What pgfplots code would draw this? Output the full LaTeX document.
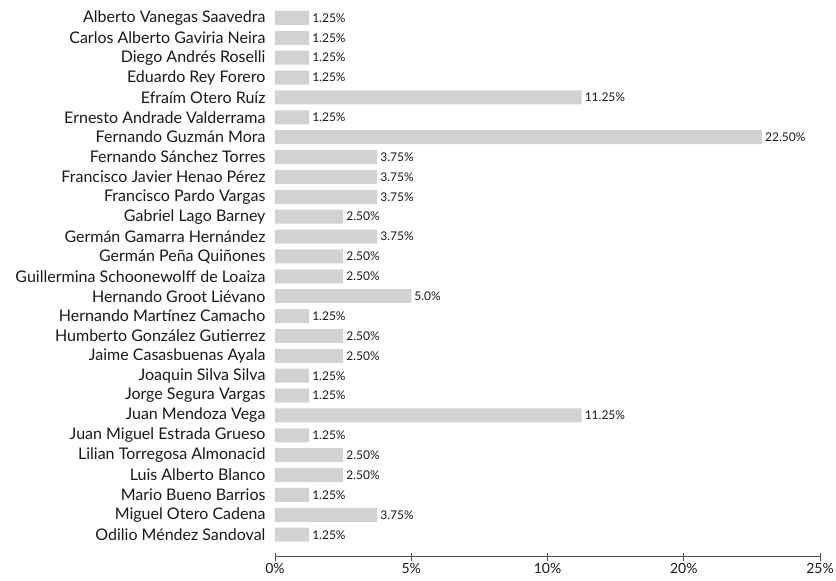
\documentclass[border=0pt]{standalone}
\usepackage{pgfplots}
\pgfplotsset{compat=1.18}
\usepackage{fontspec}
\setmainfont{Lato}
\definecolor{bargray}{HTML}{D1D2D4}
\definecolor{axisgray}{HTML}{4D4D4D}
\begin{document}
\begin{tikzpicture}
\begin{axis}[
  scale only axis, width=545pt, height=556.6pt,
  xbar, bar width=14pt,
  xmin=0, xmax=20, ymin=-0.9, ymax=27.1, y dir=reverse,
  axis x line*=bottom, axis y line*=left,
  y axis line style={draw=none},
  x axis line style={draw=axisgray, line width=0.8pt},
  ytick={0,...,26},
  yticklabels={Alberto Vanegas Saavedra, Carlos Alberto Gaviria Neira, Diego Andrés Roselli\ , Eduardo Rey Forero\ , Efraím Otero Ruíz, Ernesto Andrade Valderrama, Fernando Guzmán Mora, Fernando Sánchez Torres, Francisco Javier Henao Pérez, Francisco Pardo Vargas, Gabriel Lago Barney, Germán Gamarra Hernández, Germán Peña Quiñones, Guillermina Schoonewolff de Loaiza, Hernando Groot Liévano\ , Hernando Martínez Camacho\ , Humberto González Gutierrez, Jaime Casasbuenas Ayala\ , Joaquin Silva Silva, Jorge Segura Vargas, Juan Mendoza Vega, Juan Miguel Estrada Grueso, Lilian Torregosa Almonacid, Luis Alberto Blanco, Mario Bueno Barrios\ , Miguel Otero Cadena, Odilio Méndez Sandoval},
  ytick style={draw=none},
  yticklabel style={font=\fontsize{16}{17}\selectfont, text=black!90, xshift=-2pt},
  xtick={0,5,10,15,20},
  xticklabels={0\%,5\%,10\%,20\%,25\%},
  xticklabel style={font=\fontsize{14}{15}\selectfont, text=black!90, yshift=1pt},
  /pgf/number format/assume math mode=true,
  tick align=center, major tick length=8pt,
  xtick style={draw=axisgray, line width=0.8pt},
  nodes near coords, point meta=explicit symbolic,
  nodes near coords style={font=\fontsize{12}{13}\selectfont, anchor=west, text=black!90, inner sep=3pt},
  clip=false,
]
\addplot[fill=bargray, draw=none] coordinates {
(1.25,0) [1.25\%]
(1.25,1) [1.25\%]
(1.25,2) [1.25\%]
(1.25,3) [1.25\%]
(11.25,4) [11.25\%]
(1.25,5) [1.25\%]
(17.87,6) [22.50\%]
(3.75,7) [3.75\%]
(3.75,8) [3.75\%]
(3.75,9) [3.75\%]
(2.50,10) [2.50\%]
(3.75,11) [3.75\%]
(2.50,12) [2.50\%]
(2.50,13) [2.50\%]
(5.0,14) [5.0\%]
(1.25,15) [1.25\%]
(2.50,16) [2.50\%]
(2.50,17) [2.50\%]
(1.25,18) [1.25\%]
(1.25,19) [1.25\%]
(11.25,20) [11.25\%]
(1.25,21) [1.25\%]
(2.50,22) [2.50\%]
(2.50,23) [2.50\%]
(1.25,24) [1.25\%]
(3.75,25) [3.75\%]
(1.25,26) [1.25\%]
};
\coordinate (sw) at (rel axis cs:0,0);
\coordinate (ne) at (rel axis cs:1,1);
\end{axis}
\pgfresetboundingbox
\path ([xshift=-275pt,yshift=-24pt]sw) rectangle ([xshift=16pt]ne);
\end{tikzpicture}
\end{document}
